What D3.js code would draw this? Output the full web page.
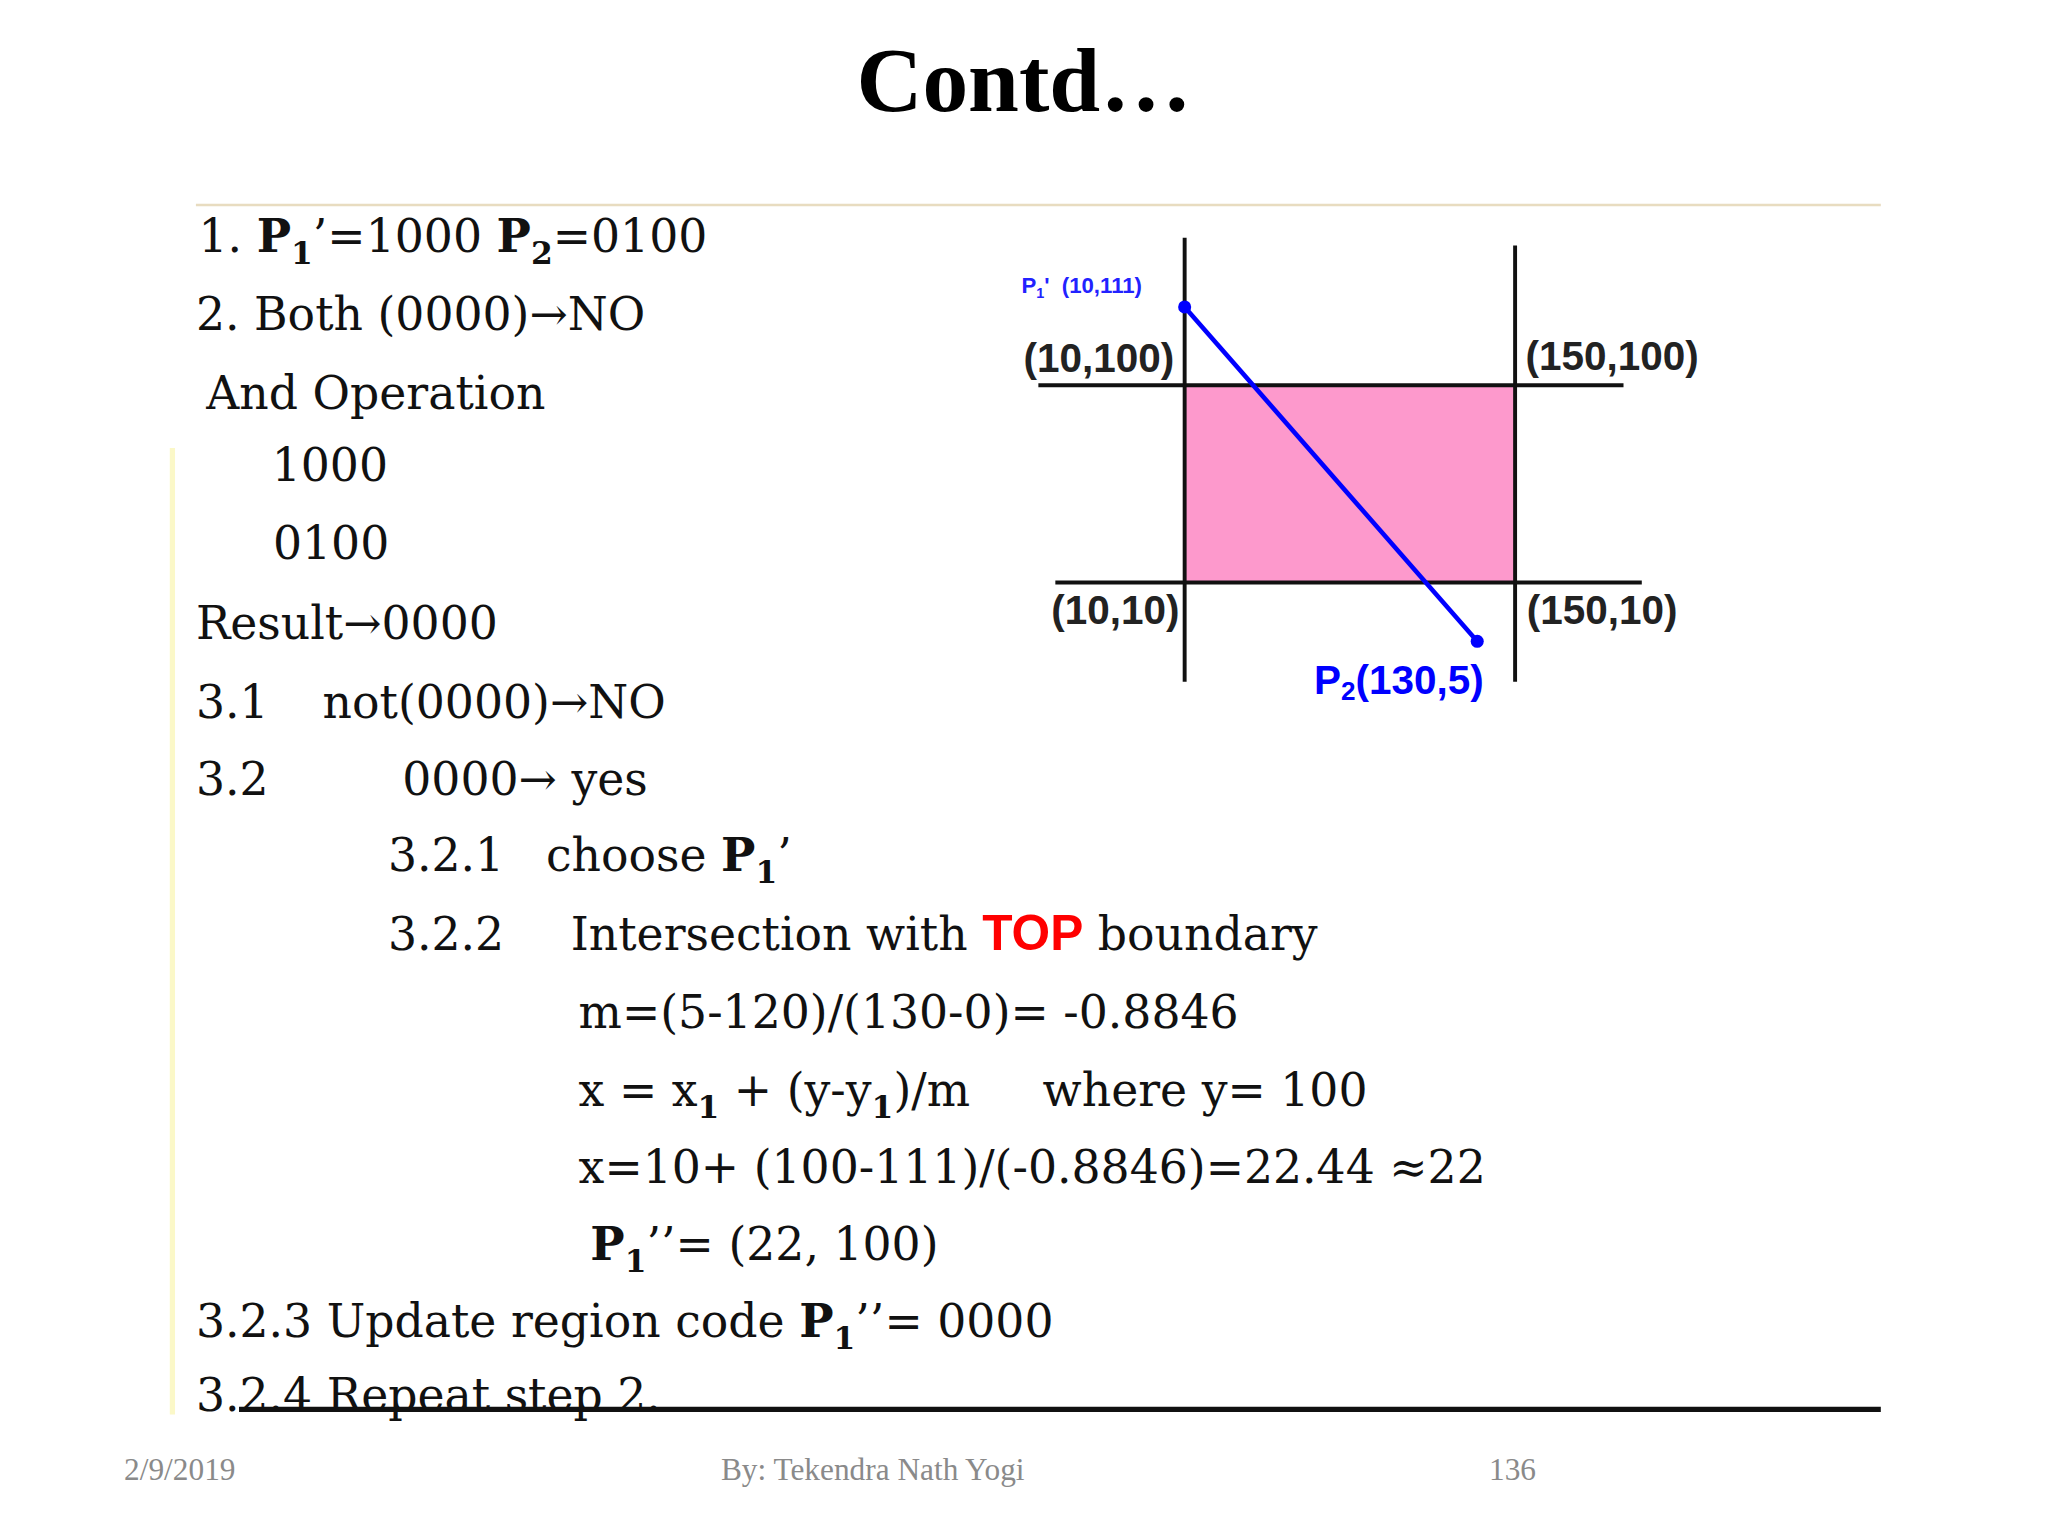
<!DOCTYPE html>
<html><head><meta charset="utf-8">
<script src="https://cdn.jsdelivr.net/npm/d3@7"></script>
<style>body{margin:0;background:#fff}</style></head>
<body><div id="one"></div>
<script>
// window corners of the clip region (x, y)
const cornerLabels = ['(10,100)', '(150,100)', '(10,10)', '(150,10)']
const corners = [[10, 100], [150, 100], [10, 10], [150, 10]]
// line being clipped
const p1 = [10, 111]
const p2 = [130, 5]
// slide text lines: [indent, text parts]
const lines = [
  [[152, [['1. '], ['P', 'b'], ['1', 'sub'], ['’=1000 '], ['P', 'b'], ['2', 'sub'], ['=0100']]]],
  [[150, [['2. Both (0000)→NO']]]],
  [[158, [['And Operation']]]],
  [[208, [['1000']]]],
  [[209, [['0100']]]],
  [[150, [['Result→0000']]]],
  [[150, [['3.1']]], [247, [['not(0000)→NO']]]],
  [[150, [['3.2']]], [308, [['0000→ yes']]]],
  [[297, [['3.2.1']]], [418, [['choose '], ['P', 'b'], ['1', 'sub'], ['’']]]],
  [[297, [['3.2.2']]], [437, [['Intersection with '], ['TOP', 'red'], [' boundary']]]],
  [[443, [['m=(5-120)/(130-0)= -0.8846']]]],
  [[443, [['x = x'], ['1', 'sub'], [' + (y-y'], ['1', 'sub'], [')/m     where y= 100']]]],
  [[443, [['x=10+ (100-111)/(-0.8846)=22.44 ≈22']]]],
  [[452, [['P', 'b'], ['1', 'sub'], ['’’= (22, 100)']]]],
  [[150, [['3.2.3 Update region code '], ['P', 'b'], ['1', 'sub'], ['’’= 0000']]]],
  [[150, [['3.2.4 Repeat step 2.']]]]
]
const baselines = [193, 253, 313, 368, 428, 489, 550, 609, 667, 727, 787, 847, 906, 965, 1024, 1080]

const W = 1568, H = 1176
const svg = d3.create('svg').attr('viewBox', [0, 0, W, H]).attr('width', 2048).attr('height', 1536)
  .attr('font-family', 'DejaVu Serif')

// diagram scales (the slide's sketch is not drawn to scale, hence piecewise)
const x = d3.scaleLinear().domain([10, 130, 150]).range([907, 1131, 1160])
const y = d3.scaleLinear().domain([5, 10, 100, 111]).range([491, 446, 295, 235])

svg.append('text').attr('x', 784).attr('y', 85).attr('text-anchor', 'middle')
  .attr('font-size', 70).attr('font-weight', 'bold').attr('font-family', 'Liberation Serif').text('Contd…')

// decorative slide lines
svg.append('line').attr('x1', 150).attr('x2', 1440).attr('y1', 157).attr('y2', 157)
  .attr('stroke', '#e8dcc0').attr('stroke-width', 2)
svg.append('line').attr('x1', 132).attr('x2', 132).attr('y1', 343).attr('y2', 1083)
  .attr('stroke', '#fbf8c8').attr('stroke-width', 4)
svg.append('line').attr('x1', 183).attr('x2', 1440).attr('y1', 1079).attr('y2', 1079)
  .attr('stroke', '#111').attr('stroke-width', 4)

// window
const g = svg.append('g')
g.append('rect').attr('x', x(10)).attr('y', y(100)).attr('width', x(150) - x(10)).attr('height', y(10) - y(100))
  .attr('fill', '#fd99cc')
const seg = (x1, y1, x2, y2, w) => g.append('line').attr('x1', x1).attr('y1', y1).attr('x2', x2).attr('y2', y2)
  .attr('stroke', '#111').attr('stroke-width', w)
seg(x(10), 182, x(10), 522, 3)
seg(x(150), 188, x(150), 522, 3)
seg(795, y(100), 1243, y(100), 3)
seg(808, y(10), 1257, y(10), 3)

g.append('line').attr('x1', x(p1[0])).attr('y1', y(p1[1])).attr('x2', x(p2[0])).attr('y2', y(p2[1]))
  .attr('stroke', '#0000ff').attr('stroke-width', 3.5)
g.selectAll('circle').data([p1, p2]).join('circle')
  .attr('cx', d => x(d[0])).attr('cy', d => y(d[1])).attr('r', 5).attr('fill', '#0000ff')

const labelPos = [[-8, -10, 'end'], [8, -12, 'start'], [-4, 32, 'end'], [9, 32, 'start']]
g.selectAll('text.corner').data(corners).join('text').attr('class', 'corner')
  .attr('x', (d, i) => x(d[0]) + labelPos[i][0]).attr('y', (d, i) => y(d[1]) + labelPos[i][1])
  .attr('text-anchor', (d, i) => labelPos[i][2])
  .attr('font-family', 'Liberation Sans').attr('font-weight', 'bold').attr('font-size', 31).attr('fill', '#222')
  .text((d, i) => cornerLabels[i])

const t1 = g.append('text').attr('x', 782).attr('y', 224).attr('font-family', 'Liberation Sans')
  .attr('font-weight', 'bold').attr('font-size', 17).attr('fill', '#2222ff').style('white-space', 'pre')
t1.append('tspan').text('P')
t1.append('tspan').attr('font-size', 11).attr('dy', 4).text('1')
t1.append('tspan').attr('dy', -4).text(`'  (${p1[0]},${p1[1]})`)
const t2 = g.append('text').attr('x', 1006).attr('y', 531).attr('font-family', 'Liberation Sans')
  .attr('font-weight', 'bold').attr('font-size', 31).attr('fill', '#0000ff')
t2.append('tspan').text('P')
t2.append('tspan').attr('font-size', 20).attr('dy', 5).text('2')
t2.append('tspan').attr('dy', -5).text(`(${p2[0]},${p2[1]})`)

// slide text
lines.forEach((line, i) => {
  line.forEach(([x0, parts]) => {
    const t = svg.append('text').attr('x', x0).attr('y', baselines[i]).attr('font-size', 35).attr('fill', '#111')
      .style('white-space', 'pre')
    let shifted = false
    parts.forEach(([s, k]) => {
      const ts = t.append('tspan').text(s)
      if (k === 'sub') { ts.attr('font-size', 24).attr('dy', 9).attr('font-weight', 'bold'); shifted = true; return }
      if (shifted) { ts.attr('dy', -9); shifted = false }
      if (k === 'b') ts.attr('font-weight', 'bold')
      if (k === 'red') ts.attr('font-weight', 'bold').attr('fill', '#ff0000').attr('font-family', 'Liberation Sans').attr('font-size', 38)
    })
  })
})

// footer
const footer = [[95, '2/9/2019'], [552, 'By: Tekendra Nath Yogi'], [1140, '136']]
svg.selectAll('text.foot').data(footer).join('text').attr('class', 'foot')
  .attr('x', d => d[0]).attr('y', 1133).attr('font-size', 24).attr('font-family', 'Liberation Serif')
  .attr('fill', '#8a8a8a').text(d => d[1])

document.getElementById('one').appendChild(svg.node())
</script></body></html>
